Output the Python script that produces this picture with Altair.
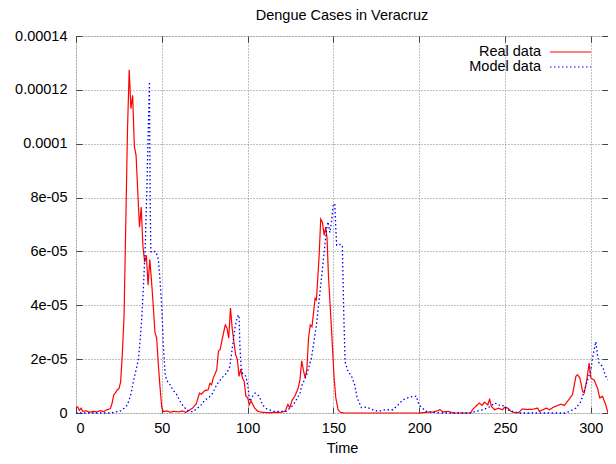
import altair as alt
import pandas as pd

# Time values and case values (in units of 1e-6)
real_t = [0, 1, 2, 3, 4, 6, 8, 10, 12, 14, 16, 18, 20, 21, 22, 23, 24, 25, 26, 27, 28, 29, 30, 31,
          32, 33, 34, 35, 36, 37, 38, 39, 40, 41, 41.5, 42, 43, 44, 45, 46, 47, 48, 49, 50, 51, 53,
          55, 57, 60, 62, 64, 66, 68, 70, 72, 73, 75, 77, 78, 79, 80, 82, 83, 84, 85.5, 87, 88, 89,
          90, 91, 92, 93, 94, 95, 96, 97, 98, 99, 100, 101, 102, 104, 106, 108, 112, 116, 120, 122,
          123.5, 124.5, 126, 127.5, 129.5, 130.5, 131.5, 132.5, 133.5, 134.5, 135.5, 136.5, 137.5,
          138.5, 139.3, 140.1, 141.7, 142.6, 143.6, 144.6, 145.5, 146.3, 147.1, 148.3, 149.4, 150.4,
          151.4, 152.7, 154, 156, 200, 205, 208, 211, 212, 214, 217, 220, 230, 231, 233, 235, 236.6,
          238, 240, 241, 242, 244, 246, 248.6, 249.6, 251.6, 253.5, 256, 258, 260, 263, 266, 269,
          270, 272, 274, 276, 278, 280.6, 282.6, 284.5, 286.4, 289.3, 291.3, 292.2, 293.6, 295.2,
          296.1, 297.5, 299, 300, 301.9, 303.9, 305.2, 306.8, 308.7, 310]
real_v = [2.0, 2.3, 1.0, 1.8, 0.6, 0.8, 0.3, 0.6, 0.4, 0.9, 0.5, 1.2, 1.6, 3.5, 6.8, 7.5, 8.6, 9.0,
          11.5, 22, 36, 70, 105, 127.5, 113, 118, 99, 95.7, 82, 69, 76.5, 62, 56, 58.6, 53, 47.5,
          57, 49, 40, 30, 27.8, 17.9, 9.3, 1.9, 0.5, 0.8, 0.3, 0.6, 0.4, 0.8, 0.2, 1.0, 1.9, 3.3,
          7.4, 7.0, 8.3, 8.6, 11, 10.5, 13, 16, 23, 23.6, 28.4, 32.7, 31.5, 27.8, 39, 31.5, 26.5,
          21.6, 20, 13.6, 16.3, 13, 11.7, 6.2, 5.7, 3.0, 4.5, 1.9, 0.6, 0.3, 0.1, 0.2, 0.3, 0.8,
          3.2, 1.9, 4.8, 6.2, 9.3, 12.3, 19.4, 16, 13, 16, 27.8, 32.7, 32, 37.7, 42.6, 42, 58.6,
          72, 70.8, 66, 69, 64.8, 51, 37.7, 25, 13, 5.6, 1.2, 0.3, 0, 0, 0.3, 0.3, 0.9, 1.2, 0.4,
          0.6, 0, 0, 1.2, 2.5, 3.7, 2.8, 4, 3, 5.3, 2.5, 1.2, 1.8, 1.2, 2.1, 1.8, 0.6, 0, 0.2, 1.5,
          1.3, 1.4, 1.8, 0.6, 1.2, 1.8, 1.2, 2.1, 2.8, 3.3, 2.8, 4.3, 6.8, 13.6, 14.2, 13, 8, 7.4,
          11.7, 18.5, 13, 12.3, 9.2, 5.6, 6.2, 3, 0]

model_t = [0, 20, 22, 26, 28, 30, 32, 33.5, 35, 36.4, 37.5, 38.4, 39.3, 40.3, 41.3, 42.3, 42.8,
           43.2, 43.6, 44.5, 46, 47, 48, 49, 50, 51, 52, 53, 54.8, 56.5, 58.7, 60.5, 62.6, 64.5,
           66.5, 68.5, 70, 72.3, 75.2, 77, 79.1, 82, 84.9, 87.8, 89.7, 91.3, 92.6, 94, 95, 95.5,
           96.1, 97, 99, 100, 101.3, 102.9, 104.3, 105.5, 106.8, 108.7, 111, 115, 118.8, 122.7,
           124.5, 126.6, 128, 129.5, 130.4, 131.4, 134.3, 137.2, 140.1, 142, 144, 146, 146.9,
           147.9, 148.8, 149.8, 150.8, 151.4, 151.9, 153.7, 155.2, 156, 156.8, 158.5, 160.5,
           162.4, 163.8, 166.3, 169.2, 173, 176, 178, 180.8, 184.7, 187.6, 190.5, 194.4, 198.3,
           199.8, 201.2, 204, 208, 212, 230, 233, 237, 241.9, 243.8, 245.7, 247.7, 249.6, 251.6,
           254.5, 258, 285, 287.4, 291.3, 294.2, 296.1, 298.1, 300, 301, 302.1, 302.9, 303.9,
           304.8, 306.8, 308.7, 310]
model_v = [0, 0, 0.2, 0.8, 1.8, 3, 7, 12, 16, 20, 28, 36, 47, 61, 83, 110, 123, 80, 60, 59.5, 60,
           59, 57, 49, 39, 24, 14, 12, 10.5, 8.5, 6.8, 4.5, 2.5, 1.2, 0.5, 0.5, 1.5, 2.5, 4.9, 5.5,
           6.8, 10.5, 13, 14.8, 17.3, 25.3, 31.5, 35.8, 36.4, 25, 17.9, 14.8, 13.6, 10.5, 4.3, 6.2,
           7.4, 7.0, 6.2, 3, 1.6, 0.6, 0.6, 0.6, 1.8, 3, 4.5, 6.2, 6.8, 9.9, 14, 20.4, 32.7, 43.8,
           56, 68.5, 71, 67, 70.5, 77, 77.8, 68.5, 62.3, 62.6, 62.3, 37.7, 19, 15.4, 13.8, 10.5,
           5.6, 2, 2.2, 1.2, 0.6, 0.9, 1.2, 1.2, 3, 4.9, 5.9, 6.3, 3, 2.2, 0.6, 0.3, 0, 0, 0.6, 1.2,
           2.5, 3.7, 3.3, 2.5, 2.8, 1.2, 0.6, 0, 0, 0.6, 1.8, 4.3, 8, 12.3, 16, 20.4, 24, 26.5,
           21.4, 18.5, 17.3, 13.6, 12.3]

series_names = ["Real data", "Model data"]
series_colors = ["#ff0000", "#0000ff"]
series_dashes = [[1, 0], [1.5, 2.5]]
x_ticks = [0, 50, 100, 150, 200, 250, 300]
y_ticks = [0, 20, 40, 60, 80, 100, 120, 140]
y_tick_labels = ["0", "2e-05", "4e-05", "6e-05", "8e-05", "0.0001", "0.00012", "0.00014"]

real_df = pd.DataFrame({"t": real_t, "v": real_v, "series": series_names[0]})
model_df = pd.DataFrame({"t": model_t, "v": model_v, "series": series_names[1]})

label_expr = ""
for val, lab in zip(y_ticks, y_tick_labels):
    label_expr += f"datum.value == {val} ? '{lab}' : "
label_expr += "datum.label"

FONT = "Liberation Sans"
FS = 14.5

x_scale = alt.Scale(domain=[0, 310], nice=False)
y_scale = alt.Scale(domain=[0, 140], nice=False)
color_scale = alt.Scale(domain=series_names, range=series_colors)
dash_scale = alt.Scale(domain=series_names, range=series_dashes)

# legend key line drawn to the right of its (label-aligned) slot, gnuplot style
legend = alt.Legend(
    title=None, orient="none", legendX=449, legendY=8, direction="vertical",
    symbolType="M2.43,0H8.29", symbolSize=196, symbolStrokeWidth=1.2,
    labelAlign="right", labelOffset=0, labelFontSize=FS, labelFont=FONT,
    labelColor="black", padding=0, rowPadding={"expr": "-3"},
)

grid_kw = dict(grid=True, gridColor="#808080", gridDash=[1, 2], gridWidth=1)

x_bottom = alt.Axis(orient="bottom", values=x_ticks, offset=-6, tickSize=6, domain=False,
                    tickColor="#444", labelFontSize=FS, labelFont=FONT, labelColor="black",
                    labelPadding=8, title="Time", titleFontSize=FS, titleFont=FONT,
                    titleFontWeight="normal", titleColor="black", titlePadding=7, **grid_kw)
y_left = alt.Axis(orient="left", values=y_ticks, offset=-6, tickSize=6, domain=False,
                  tickColor="#444", labelFontSize=FS, labelFont=FONT, labelColor="black",
                  labelPadding=9, labelExpr=label_expr, title=None, **grid_kw)
x_top = alt.Axis(orient="top", values=x_ticks, offset=-6, tickSize=6, domain=False,
                 tickColor="#444", labels=False, grid=False, title=None)
y_right = alt.Axis(orient="right", values=y_ticks, offset=-6, tickSize=6, domain=False,
                   tickColor="#444", labels=False, grid=False, title=None)

real_line = alt.Chart(real_df).mark_line(strokeWidth=1.2).encode(
    x=alt.X("t:Q", scale=x_scale, axis=x_bottom),
    y=alt.Y("v:Q", scale=y_scale, axis=y_left),
    color=alt.Color("series:N", scale=color_scale, legend=legend),
    strokeDash=alt.StrokeDash("series:N", scale=dash_scale, legend=legend),
)

model_line = alt.Chart(model_df).mark_line(strokeWidth=1.3).encode(
    x=alt.X("t:Q", scale=x_scale, axis=x_top),
    y=alt.Y("v:Q", scale=y_scale, axis=y_right),
    color=alt.Color("series:N", scale=color_scale, legend=legend),
    strokeDash=alt.StrokeDash("series:N", scale=dash_scale, legend=legend),
)

chart = alt.layer(real_line, model_line).resolve_axis(
    x="independent", y="independent"
).properties(
    width=532, height=377,
    title=alt.TitleParams("Dengue Cases in Veracruz", fontSize=FS, font=FONT,
                          fontWeight="normal", color="black", anchor="middle", offset=5),
    autosize=alt.AutoSizeParams(type="none"),
    padding={"left": 68, "top": 28, "right": 0, "bottom": 43},
).configure_view(stroke="#333", strokeWidth=1).configure(background="white")

chart.save("out.html", embed_options={"renderer": "svg", "actions": False})
